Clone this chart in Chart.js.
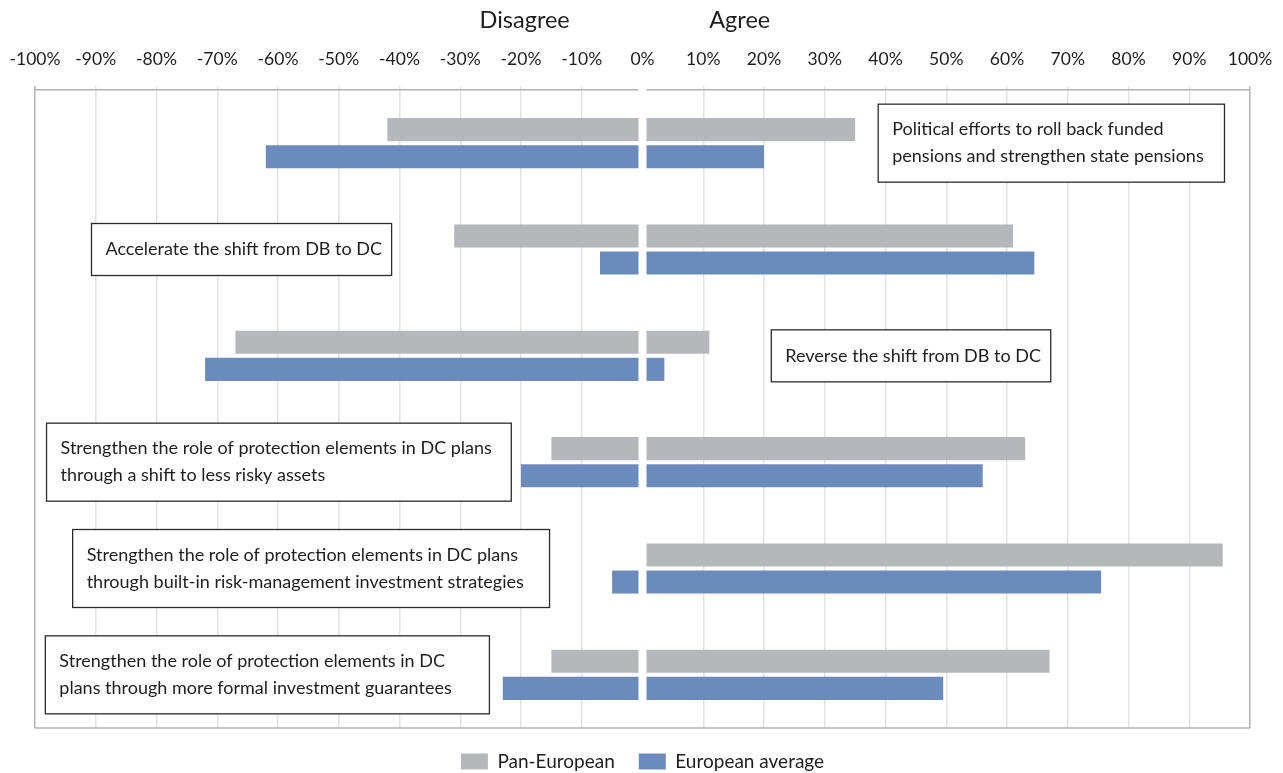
<!DOCTYPE html>
<html>
<head>
<meta charset="utf-8">
<script src="https://cdn.jsdelivr.net/npm/chart.js@4/dist/chart.umd.min.js"></script>
<style>
  html, body { margin: 0; padding: 0; background: #fff; }
  #wrap { width: 1283px; height: 773px; }
</style>
</head>
<body>
<div id="wrap"><canvas id="chart"></canvas></div>
<script>
// statements (one per group of bars), shown in the boxes
var categories = [
  ['Political efforts to roll back funded', 'pensions and strengthen state pensions'],
  ['Accelerate the shift from DB to DC'],
  ['Reverse the shift from DB to DC'],
  ['Strengthen the role of protection elements in DC plans', 'through a shift to less risky assets'],
  ['Strengthen the role of protection elements in DC plans', 'through built-in risk-management investment strategies'],
  ['Strengthen the role of protection elements in DC', 'plans through more formal investment guarantees']
];
var panEuropeanDisagree = [-42, -31, -67, -15, 0, -15];
var panEuropeanAgree = [35, 61, 11, 63, 95.5, 67];
var europeanAvgDisagree = [-62, -7, -72, -20, -5, -23];
var europeanAvgAgree = [20, 64.5, 3.6, 56, 75.5, 49.5];
var tickValues = [-100, -90, -80, -70, -60, -50, -40, -30, -20, -10, 0, 10, 20, 30, 40, 50, 60, 70, 80, 90, 100];

// where each statement box sits, in axis units (%)
var boxFrom = [38.8, -90.7, 21.2, -98.1, -93.8, -98.3];
var boxTo = [95.8, -41.3, 67.2, -21.6, -15.3, -25.2];

var GREY = '#b6b7bb';
var BLUE = '#6a8bbb';
var FONT = 'Lato, "Liberation Sans", sans-serif';

var splitAndBoxes = {
  id: 'splitAndBoxes',
  afterDatasetsDraw: function(chart) {
    var ctx = chart.ctx, area = chart.chartArea;
    var xs = chart.scales.x, ys = chart.scales.y;
    var zero = xs.getPixelForValue(0);
    ctx.save();
    // white gap between the disagree and agree sides
    ctx.fillStyle = '#fff';
    ctx.fillRect(zero - 4, area.top - 6, 8, area.bottom - area.top + 6);
    // bottom frame line
    ctx.strokeStyle = '#b3b3b3';
    ctx.lineWidth = 1.5;
    ctx.beginPath();
    ctx.moveTo(area.left, area.bottom);
    ctx.lineTo(area.right, area.bottom);
    ctx.stroke();
    // statement boxes
    ctx.font = '18px ' + FONT;
    ctx.textAlign = 'left';
    ctx.textBaseline = 'middle';
    categories.forEach(function(lines, i) {
      var cy = ys.getPixelForValue(i);
      var x1 = xs.getPixelForValue(boxFrom[i]);
      var x2 = xs.getPixelForValue(boxTo[i]);
      var h = lines.length > 1 ? 78 : 52;
      ctx.fillStyle = '#fff';
      ctx.fillRect(x1, cy - h / 2, x2 - x1, h);
      ctx.strokeStyle = '#2b2b2b';
      ctx.lineWidth = 1.3;
      ctx.strokeRect(x1, cy - h / 2, x2 - x1, h);
      ctx.fillStyle = '#1e1e1e';
      lines.forEach(function(t, j) {
        ctx.fillText(t, x1 + 14, cy + (j - (lines.length - 1) / 2) * 27);
      });
    });
    // side headers
    ctx.font = '23.5px ' + FONT;
    ctx.textAlign = 'center';
    ctx.fillStyle = '#1e1e1e';
    ctx.fillText('Disagree', xs.getPixelForValue(-19.4), 20);
    ctx.fillText('Agree', xs.getPixelForValue(16), 20);
    ctx.restore();
  }
};

var ctx = document.getElementById('chart').getContext('2d');
new Chart(ctx, {
  type: 'bar',
  data: {
    labels: categories,
    datasets: [
      {label: 'Pan-European', data: panEuropeanDisagree, backgroundColor: GREY, stack: 'pan'},
      {label: 'European average', data: europeanAvgDisagree, backgroundColor: BLUE, stack: 'avg'},
      {label: 'Pan-European agree', data: panEuropeanAgree, backgroundColor: GREY, stack: 'pan'},
      {label: 'European average agree', data: europeanAvgAgree, backgroundColor: BLUE, stack: 'avg'}
    ]
  },
  options: {
    indexAxis: 'y',
    responsive: true,
    maintainAspectRatio: false,
    animation: false,
    categoryPercentage: 0.51,
    barPercentage: 0.85,
    layout: {padding: {left: 35, right: 33, top: 0, bottom: -8}},
    plugins: {
      tooltip: {enabled: false},
      legend: {
        position: 'bottom',
        labels: {
          filter: function(item) { return item.datasetIndex < 2; },
          boxWidth: 27,
          boxHeight: 16,
          padding: 24,
          color: '#1e1e1e',
          font: {family: FONT, size: 19}
        }
      }
    },
    scales: {
      x: {
        position: 'top',
        stacked: true,
        min: -100,
        max: 100,
        afterBuildTicks: function(scale) {
          scale.ticks = tickValues.map(function(v) { return {value: v}; });
        },
        afterFit: function(scale) {
          scale.height = 90;
          scale.paddingLeft = 0;
          scale.paddingRight = 0;
        },
        ticks: {
          callback: function(v) { return v + '%'; },
          color: '#1e1e1e',
          padding: 16,
          maxRotation: 0,
          autoSkip: false,
          font: {family: FONT, size: 17.5}
        },
        grid: {
          color: function(c) {
            var v = c.tick ? c.tick.value : null;
            if (v === 0) return 'rgba(0,0,0,0)';
            if (v === -100 || v === 100) return '#b3b3b3';
            return '#e3e3e3';
          },
          lineWidth: 1.5,
          tickLength: 4
        },
        border: {color: '#b3b3b3', width: 1.5}
      },
      y: {
        display: false,
        stacked: true
      }
    }
  },
  plugins: [splitAndBoxes]
});
</script>
</body>
</html>
